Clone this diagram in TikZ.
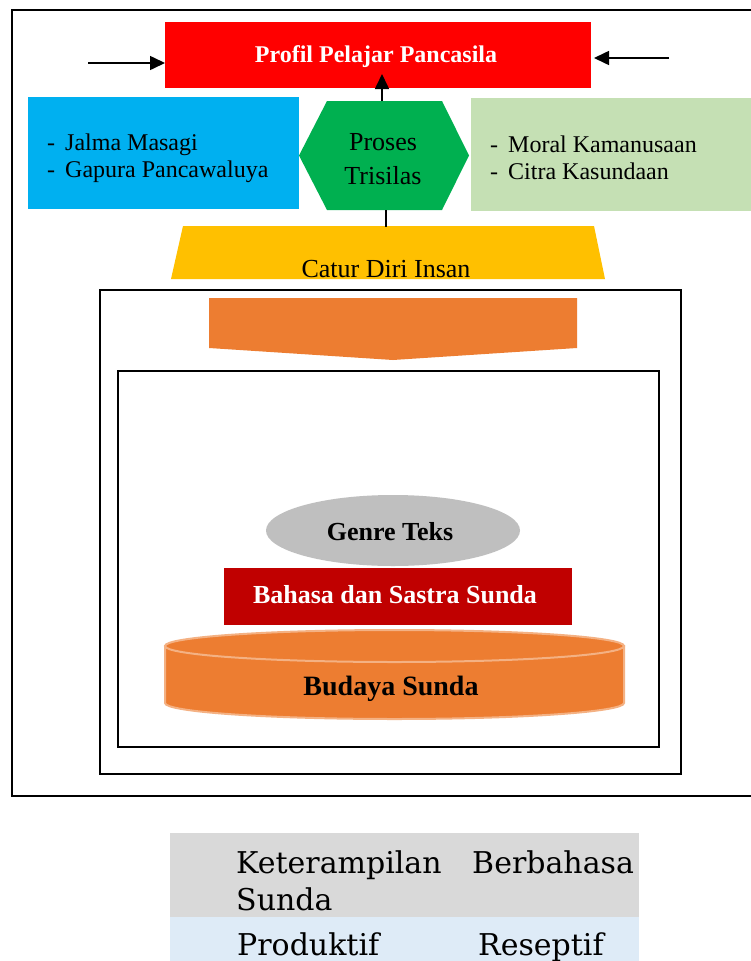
\documentclass[tikz,border=0pt]{standalone}
\usepackage{fontspec}
\setmainfont{Liberation Serif}
\newfontfamily\tablefont{DejaVu Serif}
\usetikzlibrary{arrows.meta,calc,shapes.geometric}

\definecolor{pRed}{HTML}{FF0000}
\definecolor{pBlue}{HTML}{00B0F0}
\definecolor{pGreen}{HTML}{00B050}
\definecolor{pLight}{HTML}{C5E0B4}
\definecolor{pYellow}{HTML}{FFC000}
\definecolor{pOrange}{HTML}{ED7D31}
\definecolor{pRim}{HTML}{F4B183}
\definecolor{pGray}{HTML}{BFBFBF}
\definecolor{pDark}{HTML}{C00000}
\definecolor{tGray}{HTML}{D9D9D9}
\definecolor{tBlue}{HTML}{DEEBF7}

\tikzset{
  panel/.style={inner sep=0pt, outer sep=0pt},
  frame/.style={draw=black, line width=2pt},
  arr/.style={line width=1.6pt, -{Triangle[length=15pt,width=14pt]}},
  link/.style={line width=1.6pt},
  lbl/.style={inner sep=0pt, anchor=base, font=\fontsize{26}{30}\selectfont},
  item/.style={inner sep=0pt, anchor=base west, font=\fontsize{24}{27}\selectfont},
  boldlbl/.style={inner sep=0pt, anchor=base, font=\fontsize{26}{30}\selectfont\bfseries},
  celltxt/.style={inner sep=0pt, anchor=base west, font=\tablefont\fontsize{30}{34}\selectfont},
}

\begin{document}
\begin{tikzpicture}[x=1pt, y=-1pt]
\useasboundingbox (0,0) rectangle (751,961);
\fill[white] (0,0) rectangle (751,961);

% outer frame (runs past the right edge)
\draw[frame] (12,10) rectangle (780,796);

% top: Profil Pelajar Pancasila
\node[panel, fill=pRed, minimum width=426pt, minimum height=66pt] (profil) at (378,55) {};
\node[boldlbl, text=white, font=\fontsize{24}{28}\selectfont\bfseries] (profiltxt) at (376,62) {Profil Pelajar Pancasila};

\coordinate (la) at (88,63);
\coordinate (ra) at (669,58);
\draw[arr] (la) -- (la -| profil.west);
\draw[arr] (ra) -- ($(ra -| profil.east)+(3,0)$);

% left and right boxes
\node[panel, fill=pBlue, minimum width=271pt, minimum height=112pt] (jalma) at (163.5,153) {};
\node[item] (jalma1) at (47,150) {-\hspace{10pt}Jalma Masagi};
\node[item] (jalma2) at (47,177) {-\hspace{10pt}Gapura Pancawaluya};

\node[panel, fill=pLight, minimum width=282pt, minimum height=113pt] (moral) at (612,154.5) {};
\node[item] (moral1) at (490,152) {-\hspace{10pt}Moral Kamanusaan};
\node[item] (moral2) at (490,179) {-\hspace{10pt}Citra Kasundaan};

% hexagon: Proses Trisilas
\node[panel, minimum width=170pt, minimum height=109pt] (hex) at (384,155.5) {};
\fill[pGreen] (hex.west) -- ($(hex.north west)+(28,0)$) -- ($(hex.north east)+(-27,0)$)
  -- (hex.east) -- ($(hex.south east)+(-27,0)$) -- ($(hex.south west)+(28,0)$) -- cycle;
\node[lbl] (hex1) at (383,150) {Proses};
\node[lbl] (hex2) at (383,184) {Trisilas};

\draw[arr] ($(hex.north)+(-2,0)$) -- ($(hex.north |- profil.south)+(-2,-14)$);

% trapezoid: Catur Diri Insan
\node[panel, minimum width=434pt, minimum height=53pt] (catur) at (388,252.5) {};
\fill[pYellow] ($(catur.north west)+(12,0)$) -- ($(catur.north east)+(-11,0)$)
  -- (catur.south east) -- (catur.south west) -- cycle;
\node[lbl] (caturtxt) at (386,277) {Catur Diri Insan};
\draw[link] ($(hex.south)+(2,0)$) -- ($(hex.south |- catur.north)+(2,1)$);

% nested frames with the downward arrow
\draw[frame] (100,290) rectangle (681,774);
\fill[pOrange] (209,298) -- (577,298) -- (577,348) -- (393,360) -- (209,348) -- cycle;
\draw[frame] (118,371) rectangle (659,747);

% Genre Teks
\node[panel, ellipse, fill=pGray, minimum width=254pt, minimum height=71pt] (genre) at (393,530.5) {};
\node[boldlbl] (genretxt) at (390,540) {Genre Teks};

% Bahasa dan Sastra Sunda
\node[panel, fill=pDark, minimum width=348pt, minimum height=57pt] (bahasa) at (398,596.5) {};
\node[boldlbl, text=white] (bahasatxt) at (395,603) {Bahasa dan Sastra Sunda};

% Budaya Sunda cylinder
\filldraw[fill=pOrange, draw=pRim, line width=2pt]
  (165,646) -- (165,703) arc[start angle=180, end angle=0, x radius=229.5, y radius=16]
  -- (624,646) -- cycle;
\filldraw[fill=pOrange, draw=pRim, line width=2pt] (394.5,646) ellipse[x radius=229.5, y radius=16];
\node[boldlbl, font=\fontsize{28}{30}\selectfont\bfseries] (budaya) at (391,695) {Budaya Sunda};

% table
\fill[tGray] (170,833) rectangle (639,917);
\fill[tBlue] (170,917) rectangle (639,975);
\node[celltxt] (c11) at (236,873) {Keterampilan};
\node[celltxt] (c12) at (472,873) {Berbahasa};
\node[celltxt] (c13) at (236,910) {Sunda};
\node[celltxt] (c21) at (237,955) {Produktif};
\node[celltxt] (c22) at (478,955) {Reseptif};
\end{tikzpicture}
\end{document}
